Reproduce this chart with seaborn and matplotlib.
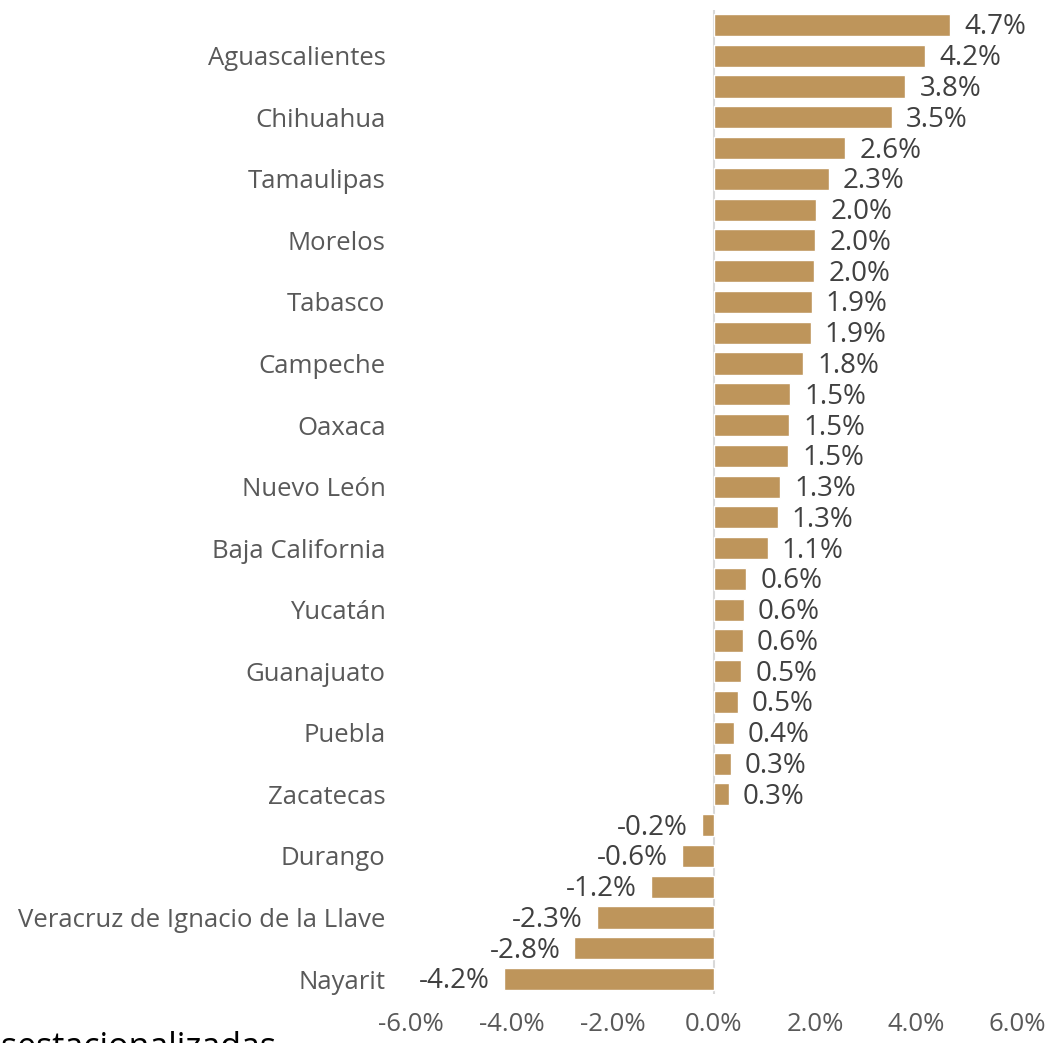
import numpy as np
import pandas as pd
import matplotlib.pyplot as plt
import seaborn as sns

# tick labels shown on the chart (every other row carries a name)
labels = ["", "Aguascalientes", "", "Chihuahua", "", "Tamaulipas", "", "Morelos",
          "", "Tabasco", "", "Campeche", "", "Oaxaca", "", "Nuevo León",
          "", "Baja California", "", "Yucatán", "", "Guanajuato", "", "Puebla",
          "", "Zacatecas", "", "Durango", "", "Veracruz de Ignacio de la Llave", "", "Nayarit"]
values = [4.67, 4.18, 3.78, 3.51, 2.59, 2.27, 2.02, 2.00, 1.98, 1.93, 1.91, 1.76,
          1.51, 1.49, 1.47, 1.31, 1.26, 1.06, 0.64, 0.59, 0.57, 0.54, 0.47, 0.39,
          0.33, 0.29, -0.23, -0.64, -1.24, -2.31, -2.76, -4.16]
xticks = [-6, -4, -2, 0, 2, 4, 6]

df = pd.DataFrame({"row": np.arange(len(values)), "value": values})

sns.set_theme(style="white")
plt.rcParams["font.family"] = ["Open Sans", "DejaVu Sans"]

fig = plt.figure(figsize=(10.5, 10.43), dpi=100)
ax = fig.add_axes([0.391, 0.0466, 0.578, 0.9442])

sns.barplot(data=df, x="value", y="row", orient="h", order=df["row"].tolist(),
            color="#BE955B", saturation=1, width=0.72, ax=ax)

ax.set_xlim(-6, 6)
ax.set_ylim(len(values) - 0.5, -0.5)
ax.set_xticks(xticks)
ax.set_xticklabels([f"{t:.1f}%" for t in xticks], fontsize=18.5, color="#595959")
ax.set_yticks(df["row"])
ax.set_yticklabels(labels, fontsize=18.5, color="#595959")
ax.tick_params(axis="x", length=0, pad=13)
ax.tick_params(axis="y", length=0, pad=18)
ax.set_xlabel("")
ax.set_ylabel("")
for s in ax.spines.values():
    s.set_visible(False)
ax.axvline(0, color="#D9D9D9", lw=1.5, zorder=0)

for i, v in zip(df["row"], df["value"]):
    if v >= 0:
        ax.text(v + 0.28, i + 0.08, f"{v:.1f}%", va="center", ha="left", fontsize=20, color="#404040")
    else:
        ax.text(v - 0.28, i + 0.08, f"{v:.1f}%", va="center", ha="right", fontsize=20, color="#404040")

# source note, cut at the bottom edge as in the original
fig.text(0.263, -0.013, "Cifras desestacionalizadas", ha="right", va="baseline",
         fontsize=24.5, color="black")

fig.savefig("out.png", dpi=100)
